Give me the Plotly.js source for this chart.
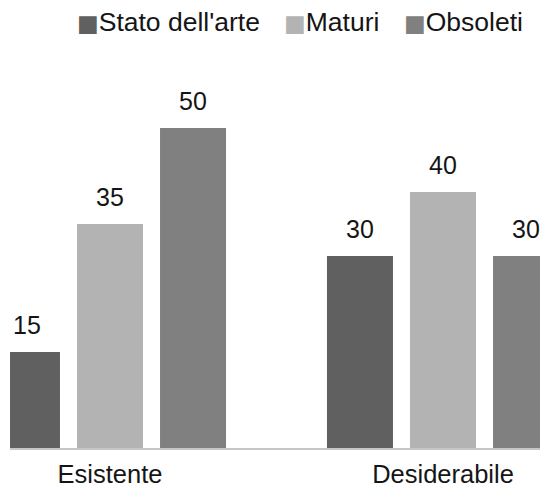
<!DOCTYPE html>
<html>
<head>
<meta charset="utf-8">
<script src="https://cdn.plot.ly/plotly-3.0.1.min.js"></script>
<style>
  html, body { margin: 0; padding: 0; background: #fff; }
  #chart { width: 540px; height: 489px; }
</style>
</head>
<body>
<div id="chart"></div>
<script>
// Categories and series
const categories = ['Esistente', 'Desiderabile'];
const seriesNames = ["Stato dell'arte", 'Maturi', 'Obsoleti'];
const statoValues = [15, 30];
const maturiValues = [35, 40];
const obsoletiValues = [50, 30];

const seriesValues = [statoValues, maturiValues, obsoletiValues];
const seriesColors = ['#606060', '#b3b3b3', '#808080'];

const FONT = 'Liberation Sans, Arial, sans-serif';
const TEXT_COLOR = '#151515';

// Bar geometry (shared by the layout and the value labels)
const BARGAP = 0.252;
const BARGROUPGAP = 0.205;
const slot = (1 - BARGAP) / seriesNames.length;

// Plot box in pixels
const M = { l: 10, r: 0, t: 64, b: 41 };
const W = 540, H = 489;
const plotW = W - M.l - M.r;

const traces = seriesNames.map((name, k) => ({
  type: 'bar',
  name: name,
  x: categories,
  y: seriesValues[k],
  marker: { color: seriesColors[k], line: { width: 0 } },
  hoverinfo: 'x+y+name'
}));

// Value labels above each bar
const annotations = [];
seriesValues.forEach((vals, k) => {
  vals.forEach((v, i) => {
    annotations.push({
      xref: 'x', yref: 'y',
      x: i + (k - (seriesNames.length - 1) / 2) * slot,
      y: v,
      text: String(v),
      showarrow: false,
      xanchor: 'center', yanchor: 'bottom',
      yshift: 11,
      font: { family: FONT, size: 25, color: TEXT_COLOR }
    });
  });
});

// Legend row: coloured square glyph followed by the series name
const legendLeftPx = [75, 282, 402];
seriesNames.forEach((name, k) => {
  annotations.push({
    xref: 'paper', yref: 'paper',
    x: (legendLeftPx[k] - M.l) / plotW,
    y: 1.064,
    xanchor: 'left', yanchor: 'bottom',
    showarrow: false,
    text: '<span style="font-family:DejaVu Sans;font-size:23px;color:' + seriesColors[k] + '">\u25A0</span>' + name,
    font: { family: FONT, size: 26.5, color: TEXT_COLOR }
  });
});

const layout = {
  width: W,
  height: H,
  margin: M,
  paper_bgcolor: '#ffffff',
  plot_bgcolor: '#ffffff',
  showlegend: false,
  barmode: 'group',
  bargap: BARGAP,
  bargroupgap: BARGROUPGAP,
  xaxis: {
    type: 'category',
    range: [-0.3003, 1.2913],
    showgrid: false,
    zeroline: false,
    showline: true,
    linecolor: '#c6c6c6',
    linewidth: 2,
    ticks: '',
    ticklabelstandoff: 2,
    tickfont: { family: FONT, size: 25.5, color: TEXT_COLOR },
    fixedrange: true
  },
  yaxis: {
    range: [0, 60],
    visible: false,
    showgrid: false,
    zeroline: false,
    fixedrange: true
  },
  annotations: annotations
};

Plotly.newPlot('chart', traces, layout, { displayModeBar: false, staticPlot: true });
</script>
</body>
</html>
